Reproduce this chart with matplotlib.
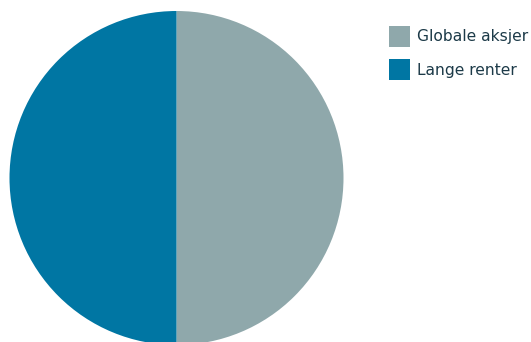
import matplotlib.pyplot as plt
from matplotlib.patches import Rectangle

labels = ["Globale aksjer", "Lange renter"]
values = [50, 50]
colors = ["#8fa8ab", "#0076a3"]
text_color = "#1c3a48"

W, H = 531, 342
fig = plt.figure(figsize=(W / 100, H / 100), dpi=100)

# pie spans x 9..344, y 11..345 in image pixels
ax = fig.add_axes([9 / W, (H - 345) / H, 335 / W, 334 / H])
ax.pie(values, colors=colors, startangle=90, counterclock=False,
       wedgeprops=dict(linewidth=0))
ax.set_xlim(-1, 1)
ax.set_ylim(-1, 1)
ax.axis("off")

# legend drawn by hand: 21px squares, 33px row pitch
for i, (lab, col) in enumerate(zip(labels, colors)):
    top = 26 + i * 33
    fig.patches.append(Rectangle((389 / W, 1 - (top + 21) / H), 21 / W, 21 / H,
                                 transform=fig.transFigure, facecolor=col,
                                 edgecolor="none"))
    fig.text(417 / W, 1 - (top + 11) / H, lab, fontsize=11.2, color=text_color,
             va="center", ha="left")

fig.savefig("out.png", dpi=100)
